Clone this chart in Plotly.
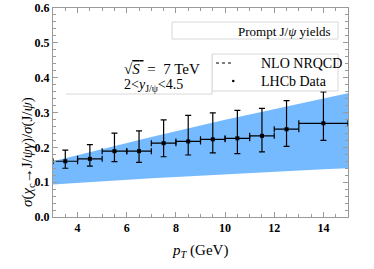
import plotly.graph_objects as go

# LHCb data
pt = [3.5, 4.5, 5.5, 6.5, 7.5, 8.5, 9.5, 10.5, 11.5, 12.5, 14.0]
pt_err = [0.5, 0.5, 0.5, 0.5, 0.5, 0.5, 0.5, 0.5, 0.5, 0.5, 1.0]
ratio = [0.160, 0.167, 0.189, 0.189, 0.212, 0.217, 0.223, 0.226, 0.233, 0.252, 0.269]
err_up = [0.032, 0.041, 0.052, 0.058, 0.067, 0.075, 0.076, 0.080, 0.079, 0.082, 0.090]
err_dn = [0.020, 0.021, 0.030, 0.032, 0.039, 0.039, 0.039, 0.044, 0.046, 0.049, 0.049]

# NLO NRQCD band
band_pt = [3, 4, 5, 6, 7, 8, 9, 10, 11, 12, 13, 14, 15]
band_hi = [0.160, 0.178, 0.196, 0.213, 0.230, 0.246, 0.263, 0.279, 0.294, 0.310, 0.325, 0.340, 0.355]
band_lo = [0.093, 0.098, 0.102, 0.107, 0.111, 0.115, 0.119, 0.123, 0.127, 0.130, 0.134, 0.137, 0.140]

SERIF = "Liberation Serif"
BLUE = "rgb(117,186,255)"
GRID = "#9a9a9a"

fig = go.Figure()
fig.add_trace(go.Scatter(x=band_pt, y=band_lo, mode="lines", line=dict(width=0),
                         showlegend=False, hoverinfo="skip"))
fig.add_trace(go.Scatter(x=band_pt, y=band_hi, mode="lines", line=dict(width=0),
                         fill="tonexty", fillcolor=BLUE, showlegend=False, hoverinfo="skip"))
fig.add_trace(go.Scatter(
    x=pt, y=ratio, mode="markers",
    marker=dict(symbol="square", size=4, color="black"),
    error_x=dict(type="data", array=pt_err, color="black", thickness=1.2, width=3),
    error_y=dict(type="data", symmetric=False, array=err_up, arrayminus=err_dn,
                 color="black", thickness=1.2, width=3),
    showlegend=False))

axis_common = dict(showline=True, linecolor=GRID, linewidth=1, mirror="ticks",
                   ticks="inside", tickcolor=GRID, ticklen=5, showgrid=False,
                   zeroline=False, automargin=False,
                   tickfont=dict(family=SERIF, size=12, color="black", weight="bold"))

fig.update_xaxes(range=[3, 15], tickvals=[4, 6, 8, 10, 12, 14],
                 minor=dict(dtick=0.5, ticks="inside", ticklen=3, tickcolor=GRID, tick0=3),
                 **axis_common)
fig.update_yaxes(range=[0, 0.6], dtick=0.1, tickformat=".1f",
                 minor=dict(dtick=0.02, ticks="inside", ticklen=3, tickcolor=GRID),
                 **axis_common)

def px_x(p):
    return (p - 53) / 295.0

def px_y(p):
    return (217 - p) / 209.0

LG = "#d8d8d8"
shapes = [
    dict(type="rect", xref="paper", yref="paper", x0=px_x(172), x1=px_x(338),
         y0=px_y(39), y1=px_y(22), line=dict(color=LG, width=1), fillcolor="white", layer="above"),
    dict(type="rect", xref="paper", yref="paper", x0=px_x(212), x1=px_x(338),
         y0=px_y(91), y1=px_y(54), line=dict(color=LG, width=1), fillcolor="white", layer="above"),
    dict(type="rect", xref="paper", yref="paper", x0=px_x(66), x1=px_x(212),
         y0=px_y(94), y1=px_y(54), line=dict(color="rgba(0,0,0,0)", width=0), fillcolor="white", layer="above"),
    dict(type="line", xref="paper", yref="paper", x0=px_x(66), x1=px_x(212),
         y0=px_y(94), y1=px_y(94), line=dict(color=LG, width=1), layer="above"),
    dict(type="line", xref="paper", yref="paper", x0=px_x(212), x1=px_x(212),
         y0=px_y(94), y1=px_y(54), line=dict(color=LG, width=1), layer="above"),
    dict(type="line", xref="paper", yref="paper", x0=px_x(216), x1=px_x(232),
         y0=px_y(63), y1=px_y(63), line=dict(color="black", width=1, dash="dot"), layer="above"),
    dict(type="circle", xref="paper", yref="paper", x0=px_x(232), x1=px_x(234.5),
         y0=px_y(82.2), y1=px_y(79.8), line=dict(color="black", width=0), fillcolor="black", layer="above"),
]

tf = dict(family=SERIF, size=13, color="black")
annotations = [
    dict(text="Prompt J/<i>ψ</i> yields", xref="paper", yref="paper", x=px_x(333), y=px_y(31),
         xanchor="right", yanchor="middle", showarrow=False, font=tf),
    dict(text="NLO NRQCD", xref="paper", yref="paper", x=px_x(259), y=px_y(63),
         xanchor="left", yanchor="middle", showarrow=False, font=dict(family=SERIF, size=14, color="black")),
    dict(text="LHCb Data", xref="paper", yref="paper", x=px_x(259), y=px_y(81),
         xanchor="left", yanchor="middle", showarrow=False, font=dict(family=SERIF, size=14, color="black")),
    dict(text="√<span style='text-decoration:overline'><i>S</i> </span> =  7 TeV", xref="paper", yref="paper",
         x=px_x(122), y=px_y(69), xanchor="left", yanchor="middle", showarrow=False,
         font=dict(family=SERIF, size=15, color="black")),
    dict(text="2<<i>y</i><sub>J/ψ</sub><4.5", xref="paper", yref="paper",
         x=px_x(122), y=px_y(85), xanchor="left", yanchor="middle", showarrow=False,
         font=dict(family=SERIF, size=14, color="black")),
    dict(text="<i>σ</i>(<i>χ</i><sub>c</sub>→J/<i>ψγ</i>)/<i>σ</i>(J/<i>ψ</i>)", xref="paper", yref="paper",
         x=px_x(28), y=px_y(152), xanchor="center", yanchor="middle", textangle=-90,
         showarrow=False, font=dict(family=SERIF, size=15, color="black")),
    dict(text="<i>p</i><sub><i>T</i></sub> (GeV)", xref="paper", yref="paper",
         x=px_x(200), y=px_y(251), xanchor="center", yanchor="middle",
         showarrow=False, font=dict(family=SERIF, size=15, color="black")),
]

fig.update_layout(width=374, height=269, margin=dict(l=53, r=26, t=8, b=52, autoexpand=False),
                  plot_bgcolor="white", paper_bgcolor="white",
                  shapes=shapes, annotations=annotations, showlegend=False)

fig.write_html("out.html", config={"displayModeBar": False},
               post_script="document.body.style.margin='0';")
